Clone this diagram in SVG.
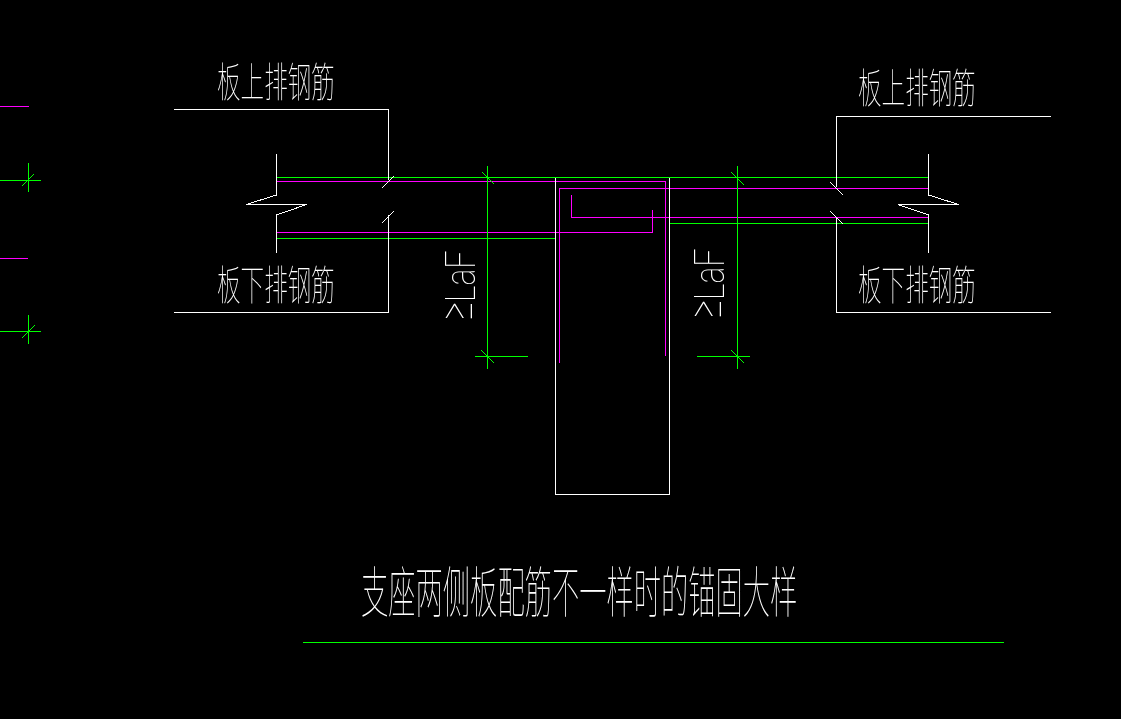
<svg xmlns="http://www.w3.org/2000/svg" width="1121" height="719" viewBox="0 0 1121 719">
<defs><filter id="gray" filterUnits="userSpaceOnUse" x="0" y="0" width="1121" height="719" color-interpolation-filters="sRGB"><feOffset dx="0" dy="0"/></filter></defs>
<style>
.w{fill:none;stroke:#fff;stroke-width:1;shape-rendering:crispEdges}
.g{fill:none;stroke:#0f0;stroke-width:1;shape-rendering:crispEdges}
.m{fill:none;stroke:#f0f;stroke-width:1;shape-rendering:crispEdges}
.f{filter:url(#gray)}
.t{fill:#fff;font-family:"Noto Sans CJK SC","Noto Sans CJK JP",sans-serif;font-weight:100}
.l{font-size:41px}
.h{font-size:55px}
.d{fill:#fff;font-family:"Roboto","Liberation Sans",sans-serif;font-weight:100;font-size:42px}
</style>
<rect width="1121" height="719" fill="#000"/>
<g id="connectors">
<path class="g" d="M276.5 177.5H928.5M669.5 223.5H928.5M276.5 238.5H555.5"/>
<path class="m" d="M276.5 181.5H665.5V356"/>
<path class="m" d="M559.5 363V188.5H928.5"/>
<path class="m" d="M571.5 195V217.5H928.5"/>
<path class="m" d="M276.5 232.5H652.5V210"/>
<path class="g" d="M487.5 166V369M482 172L494 184M481 350L494 363M475 356.5H528"/>
<path class="g" d="M737.5 166V369M731 172L744 185M731 350L744 363M697 356.5H750"/>
<path class="g" d="M303 642.5H1004"/>
</g>
<g id="legend">
<path class="m" d="M0 106.5H29M0 258.5H28"/>
<path class="g" d="M0 180.5H41M28.5 163V192M22 186L34 174M0 331.5H41M28.5 315V344M22 338L35 325"/>
</g>
<g id="left-slab">
<path class="w" d="M174 109.5H388.5V180M388.5 215V312.5H174"/>
<path class="w" d="M276.5 154V195L246 204.5H306.5L276.5 215V253"/>
<path class="w" d="M382 188L394 176M382 223L394 211"/>
</g>
<g id="right-slab">
<path class="w" d="M1051 116.5H836.5V187M836.5 218V312.5H1051"/>
<path class="w" d="M928.5 154V195L958.5 204.5H898L928.5 215V253"/>
<path class="w" d="M830 182L843 195M830 211L843 224"/>
</g>
<g id="column">
<path class="w" d="M555.5 177.5V494.5H669.5V177.5"/>
</g>
<g id="label-top-left" class="f"><text class="t l" transform="translate(217 97) scale(.575 1)">板上排钢筋</text></g>
<g id="label-bottom-left" class="f"><text class="t l" transform="translate(217 300) scale(.575 1)">板下排钢筋</text></g>
<g id="label-top-right" class="f"><text class="t l" transform="translate(858 103) scale(.575 1)">板上排钢筋</text></g>
<g id="label-bottom-right" class="f"><text class="t l" transform="translate(858 300) scale(.575 1)">板下排钢筋</text></g>
<g id="dim-left" class="f"><text class="d" transform="translate(475 320) rotate(-90) scale(.76 1)"><tspan font-size="46" dy="-3">≥</tspan><tspan dy="3">LaF</tspan></text></g>
<g id="dim-right" class="f"><text class="d" transform="translate(724 318) rotate(-90) scale(.76 1)"><tspan font-size="46" dy="-3">≥</tspan><tspan dy="3">LaF</tspan></text></g>
<g id="title" class="f"><text class="t h" transform="translate(361 612) scale(.496 1)">支座两侧板配筋不一样时的锚固大样</text></g>
</svg>
